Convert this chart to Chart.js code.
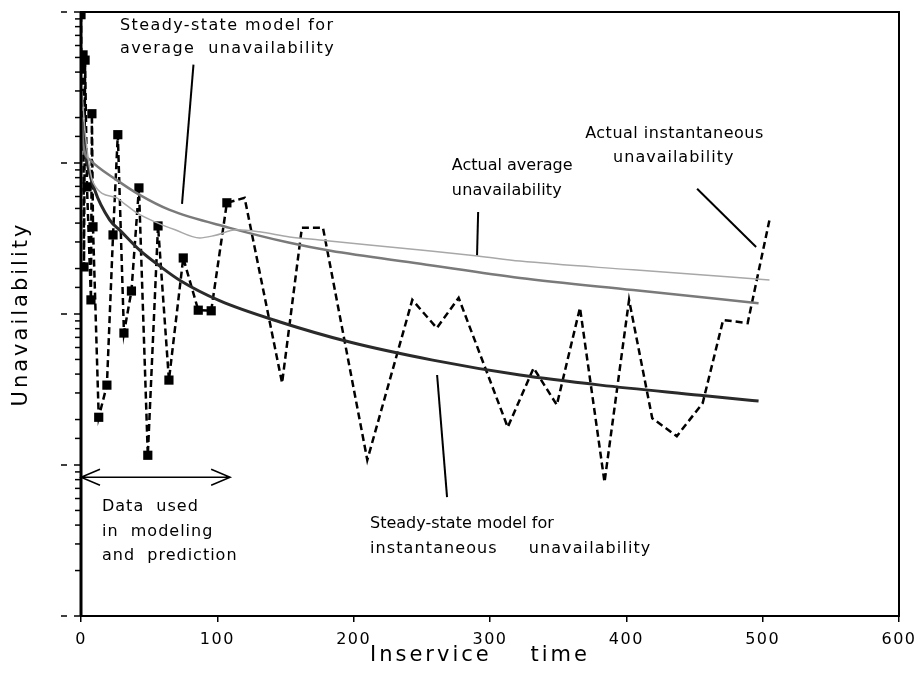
<!DOCTYPE html>
<html>
<head>
<meta charset="utf-8">
<script src="https://cdn.jsdelivr.net/npm/chart.js@4.4.1/dist/chart.umd.min.js"></script>
<style>
  html, body { margin: 0; padding: 0; background: #fff; }
</style>
</head>
<body>
<canvas id="myChart" width="924" height="680"></canvas>
<script>
// actual instantaneous unavailability (dashed), markers on the data used for modeling
const instTimes = [0, 0.3, 1.5, 2.2, 3, 4.4, 7.3, 8, 8.8, 13, 19, 23.5, 27, 31.5, 37, 42.5, 49, 56.5, 64.5, 75, 86, 95.5, 107,
    120, 147.5, 162, 177.5, 210, 243, 261, 277, 313, 332, 349, 366, 384, 402, 419, 437, 456, 471, 489, 505];
const instValues = [0.96, 0.43, 0.52, 0.0205, 0.48, 0.0695, 0.0124, 0.212, 0.0378, 0.00207, 0.00338, 0.0334, 0.154, 0.00748, 0.0142, 0.0684, 0.00116, 0.0383, 0.00365, 0.0235, 0.0106, 0.0105, 0.0545,
    0.0588, 0.00349, 0.0372, 0.0372, 0.00108, 0.0124, 0.00807, 0.0128, 0.00178, 0.00439, 0.0025, 0.011, 0.00077, 0.0124, 0.00204, 0.00155, 0.00257, 0.00912, 0.00871, 0.042];
const modelingCutoff = 110;

// steady-state model for instantaneous unavailability
const ssInstTimes = [0.5, 3, 10, 21, 29, 43, 58, 73, 102, 146, 197, 258, 322, 381, 454, 497];
const ssInstValues = [0.19, 0.118, 0.0664, 0.042, 0.0355, 0.0265, 0.0207, 0.0166, 0.0122, 0.00885, 0.00652, 0.00495, 0.00394, 0.00338, 0.0029, 0.00265];

// steady-state model for average unavailability
const ssAvgTimes = [0.5, 1.5, 6.6, 26, 43, 65, 109, 153, 183, 249, 322, 405, 497];
const ssAvgValues = [0.2, 0.135, 0.105, 0.0773, 0.0615, 0.0489, 0.0372, 0.0296, 0.0262, 0.0215, 0.0173, 0.0144, 0.0118];

// actual average unavailability
const actAvgTimes = [0.7, 3, 9, 26, 31, 41, 56, 69, 87, 98, 114, 131, 153, 175, 249, 291, 322, 405, 505];
const actAvgValues = [0.3, 0.16, 0.0738, 0.0588, 0.0545, 0.0467, 0.0401, 0.0361, 0.0319, 0.0331, 0.0361, 0.035, 0.0324, 0.0309, 0.0265, 0.0242, 0.0224, 0.0196, 0.0168];

const xTickMin = 0;
const xTickMax = 600;
const xTickStep = 100;

// annotations in data coordinates: time, log10(value)
const notes = [
    { text: 'Steady-state model for', t: 28.6, e: -0.090, ls: 1.4 },
    { text: 'average  unavailability', t: 28.6, e: -0.245, ls: 1.4 },
    { text: 'Actual average', t: 272, e: -1.022, ls: 0 },
    { text: 'unavailability', t: 272, e: -1.182, ls: 0.2 },
    { text: 'Actual instantaneous', t: 369.8, e: -0.807, ls: 0.5 },
    { text: 'unavailability', t: 390.3, e: -0.966, ls: 1 },
    { text: 'Steady-state model for', t: 212, e: -3.392, ls: 0 },
    { text: 'instantaneous     unavailability', t: 212, e: -3.558, ls: 1.1 },
    { text: 'Data  used', t: 15.4, e: -3.279, ls: 1 },
    { text: 'in  modeling', t: 15.4, e: -3.445, ls: 1 },
    { text: 'and  prediction', t: 15.4, e: -3.604, ls: 1 }
];
const pointers = [
    [82.5, -0.349, 74.1, -1.271],
    [291.3, -1.324, 290.5, -1.610],
    [451.9, -1.171, 495.2, -1.556],
    [261.2, -2.404, 268.5, -3.213]
];
const arrowSpan = { from: 0, to: 109.4, e: -3.081 };

const toPoints = (xs, ys) => xs.map((x, i) => ({ x: x, y: ys[i] }));

const decorations = {
    id: 'decorations',
    beforeDraw(chart) {
        chart.ctx.letterSpacing = '1.5px';
    },
    afterDraw(chart) {
        const ctx = chart.ctx;
        const a = chart.chartArea;
        const x = chart.scales.x;
        const y = chart.scales.y;
        const px = t => x.getPixelForValue(t);
        const py = e => y.getPixelForValue(Math.pow(10, e));
        ctx.save();

        // frame
        ctx.strokeStyle = '#000';
        ctx.lineWidth = 2;
        ctx.strokeRect(a.left, a.top, a.right - a.left, a.bottom - a.top);
        ctx.lineWidth = 3;
        ctx.beginPath();
        ctx.moveTo(a.left, a.top);
        ctx.lineTo(a.left, a.bottom);
        ctx.stroke();

        // log ticks on the left
        ctx.lineWidth = 1.5;
        y.ticks.forEach(tk => {
            const lg = Math.log10(tk.value);
            const ty = y.getPixelForValue(tk.value);
            ctx.beginPath();
            if (Math.abs(lg - Math.round(lg)) < 1e-6) {
                ctx.moveTo(a.left - 20, ty);
                ctx.lineTo(a.left - 14, ty);
                ctx.moveTo(a.left - 7, ty);
                ctx.lineTo(a.left, ty);
            } else {
                ctx.moveTo(a.left - 6, ty);
                ctx.lineTo(a.left, ty);
            }
            ctx.stroke();
        });

        // pointer lines
        ctx.lineWidth = 2;
        pointers.forEach(p => {
            ctx.beginPath();
            ctx.moveTo(px(p[0]), py(p[1]));
            ctx.lineTo(px(p[2]), py(p[3]));
            ctx.stroke();
        });

        // double arrow
        const ay = py(arrowSpan.e);
        const ax1 = px(arrowSpan.from);
        const ax2 = px(arrowSpan.to);
        ctx.lineWidth = 1.5;
        ctx.beginPath();
        ctx.moveTo(ax1, ay);
        ctx.lineTo(ax2, ay);
        ctx.moveTo(ax1 + 19, ay - 8);
        ctx.lineTo(ax1, ay);
        ctx.lineTo(ax1 + 19, ay + 8);
        ctx.moveTo(ax2 - 19, ay - 8);
        ctx.lineTo(ax2, ay);
        ctx.lineTo(ax2 - 19, ay + 8);
        ctx.stroke();

        // labels
        ctx.fillStyle = '#000';
        ctx.font = '16px "DejaVu Sans"';
        ctx.textBaseline = 'middle';
        ctx.textAlign = 'left';
        notes.forEach(n => {
            ctx.letterSpacing = n.ls + 'px';
            ctx.fillText(n.text, px(n.t), py(n.e));
        });

        // axis titles
        ctx.font = '21px "DejaVu Sans"';
        ctx.letterSpacing = '3px';
        ctx.textAlign = 'left';
        ctx.fillText('Inservice    time', 370, 656);
        ctx.textAlign = 'center';
        ctx.translate(22, (a.top + a.bottom) / 2);
        ctx.rotate(-Math.PI / 2);
        ctx.fillText('Unavailability', 0, 0);
        ctx.restore();
    }
};

const graph = document.getElementById('myChart').getContext('2d');
const myChart = new Chart(graph, {
    type: 'line',
    data: {
        datasets: [
            {
                label: 'Actual average unavailability',
                data: toPoints(actAvgTimes, actAvgValues),
                borderColor: '#a8a8a8',
                borderWidth: 1.5,
                pointRadius: 0,
                cubicInterpolationMode: 'monotone',
                fill: false
            },
            {
                label: 'Steady-state model for average unavailability',
                data: toPoints(ssAvgTimes, ssAvgValues),
                borderColor: '#7a7a7a',
                borderWidth: 2.5,
                pointRadius: 0,
                cubicInterpolationMode: 'monotone',
                fill: false
            },
            {
                label: 'Steady-state model for instantaneous unavailability',
                data: toPoints(ssInstTimes, ssInstValues),
                borderColor: '#2a2a2a',
                borderWidth: 3,
                pointRadius: 0,
                cubicInterpolationMode: 'monotone',
                fill: false
            },
            {
                label: 'Actual instantaneous unavailability',
                data: toPoints(instTimes, instValues),
                borderColor: '#000',
                borderWidth: 2.5,
                borderDash: [7, 4],
                tension: 0,
                pointStyle: 'rect',
                pointRadius: ctx => (ctx.raw && ctx.raw.x <= modelingCutoff ? 6.5 : 0),
                pointBackgroundColor: '#000',
                pointBorderColor: '#000',
                pointBorderWidth: 0,
                fill: false
            }
        ]
    },
    options: {
        responsive: false,
        animation: false,
        events: [],
        layout: { padding: { left: 0, right: 25, top: 12, bottom: 0 } },
        plugins: { legend: { display: false }, tooltip: { enabled: false } },
        scales: {
            x: {
                type: 'linear',
                min: xTickMin,
                max: xTickMax,
                border: { display: false },
                grid: { drawOnChartArea: false, drawTicks: true, tickLength: 6, color: '#000', lineWidth: 1.5 },
                ticks: { stepSize: xTickStep, color: '#000', font: { family: 'DejaVu Sans', size: 16 }, padding: 8, maxRotation: 0 },
                afterFit: s => { s.height = 64; }
            },
            y: {
                type: 'logarithmic',
                min: 1e-4,
                max: 1,
                border: { display: false },
                grid: { display: false },
                ticks: { autoSkip: false, callback: () => '' },
                afterFit: s => { s.width = 81; }
            }
        }
    },
    plugins: [decorations]
});
</script>
</body>
</html>
